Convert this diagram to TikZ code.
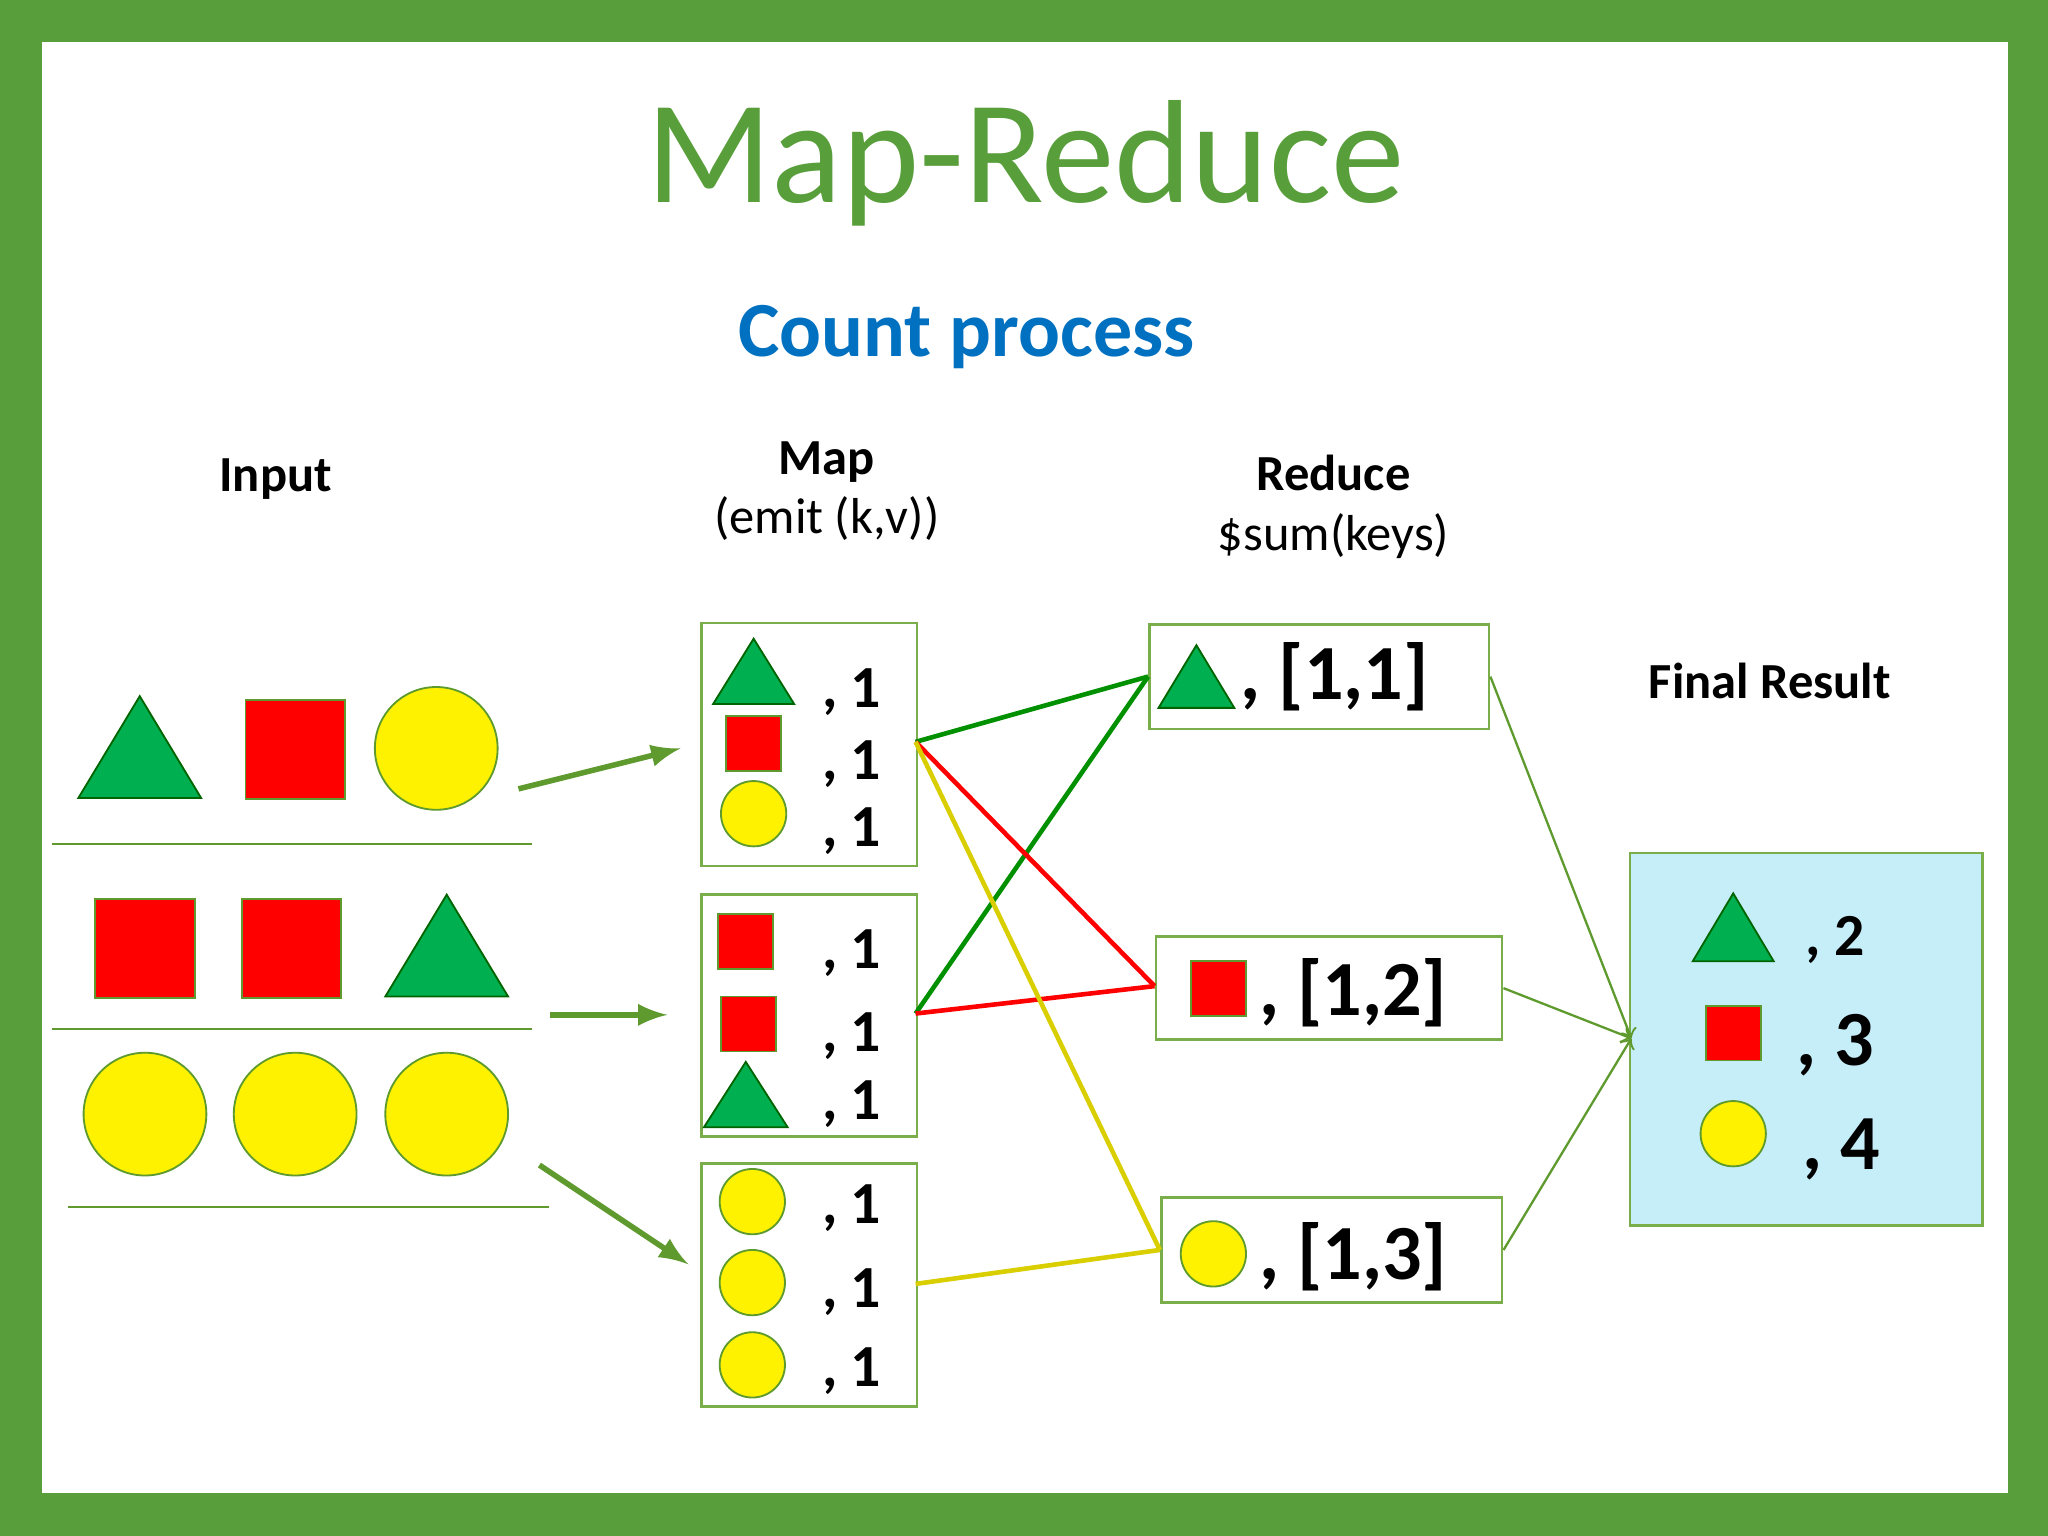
\documentclass[tikz,border=0pt]{standalone}
\usepackage{fontspec}
\setmainfont{Carlito}
\usetikzlibrary{positioning}
\definecolor{frame}{HTML}{589E3A}
\definecolor{arrowgreen}{HTML}{5E9A2E}
\definecolor{boxline}{HTML}{7AAE4A}
\definecolor{tgreen}{HTML}{00B050}
\definecolor{titleblue}{HTML}{0070C0}
\definecolor{lblue}{HTML}{C5EEF9}
\definecolor{ygold}{HTML}{D9CF00}
\definecolor{lgreen}{HTML}{009000}
\newcommand{\tri}[4]{\filldraw[fill=tgreen, draw=lgreen!70!black, line width=0.4pt] (#1-#3/2,#2+#4/2) -- (#1+#3/2,#2+#4/2) -- (#1,#2-#4/2) -- cycle;}
\newcommand{\sqr}[3]{\filldraw[fill=red, draw=arrowgreen, line width=0.4pt] (#1-#3/2,#2-#3/2) rectangle (#1+#3/2,#2+#3/2);}
\newcommand{\crc}[3]{\filldraw[fill=yellow, draw=arrowgreen, line width=0.4pt] (#1,#2) circle (#3);}
\begin{document}
\begin{tikzpicture}[x=0.01cm, y=-0.01cm,
	box/.style={draw=boxline, line width=0.6pt, anchor=north west, inner sep=0pt},
	fat/.style={-latex, arrowgreen, line width=1.2pt},
	thin/.style={->, arrowgreen, line width=0.5pt},
	one/.style={font=\fontsize{13}{15}\bfseries\selectfont},
	pair/.style={font=\fontsize{17}{19}\bfseries\selectfont},
	head/.style={font=\fontsize{11}{13}\selectfont, align=center}]
		\fill[frame] (0,0) rectangle (1568,1176);
		\fill[white] (32,32) rectangle (1537,1143);
		\node[text=frame, font=\fontsize{32}{36}\selectfont] (T) at (785,125) {Map-Reduce};
		\node[text=titleblue, font=\fontsize{17}{20}\bfseries\selectfont] (S) at (740,258) {Count process};
		\node[head, font=\fontsize{11}{13}\bfseries\selectfont] (In) at (211,367) {Input};
		\node[head] (Mp) at (633,376) {\textbf{Map}\\(emit (k,v))};
		\node[head] (Rd) at (1021,388) {\textbf{Reduce}\\\$sum(keys)};
		\node[head, font=\fontsize{11}{13}\bfseries\selectfont] (Fr) at (1355,521) {Final Result};
		% input rows
		\tri{107}{572}{94}{78} \sqr{226}{574}{76} \crc{334}{573}{47}
		\draw[arrowgreen, line width=0.5pt] (40,646) -- (407,646);
		\sqr{111}{726}{76} \sqr{223}{726}{76} \tri{342}{724}{94}{78}
		\draw[arrowgreen, line width=0.5pt] (40,788) -- (407,788);
		\crc{111}{853}{47} \crc{226}{853}{47} \crc{342}{853}{47}
		\draw[arrowgreen, line width=0.5pt] (52,924) -- (420,924);
		% map boxes
		\node[box, minimum width=165*0.01cm, minimum height=186*0.01cm] (M1) at (536,476) {};
		\node[box, minimum width=165*0.01cm, minimum height=185*0.01cm] (M2) at (536,684) {};
		\node[box, minimum width=165*0.01cm, minimum height=186*0.01cm] (M3) at (536,890) {};
		\tri{577}{514}{62}{50} \sqr{577}{569}{42} \crc{577}{623}{25}
		\sqr{571}{721}{42} \sqr{573}{784}{42} \tri{571}{838}{64}{50}
		\crc{576}{920}{25} \crc{576}{982}{25} \crc{576}{1045}{25}
		\foreach \y in {530,585,636,730,793,845,925,989,1050}
			\node[one] at (652,\y) {, 1};
		% reduce boxes
		\node[box, minimum width=260*0.01cm, minimum height=80*0.01cm] (R1) at (879,477) {};
		\node[box, minimum width=265*0.01cm, minimum height=79*0.01cm] (R2) at (884,716) {};
		\node[box, minimum width=261*0.01cm, minimum height=80*0.01cm] (R3) at (888,916) {};
		\tri{916}{518}{58}{48} \sqr{933}{757}{42} \crc{929}{960}{25}
		\node[pair] at (1022,518) {, [1,1]};
		\node[pair] at (1036,760) {, [1,2]};
		\node[pair] at (1036,962) {, [1,3]};
		% final result
		\node[box, fill=lblue, minimum width=270*0.01cm, minimum height=285*0.01cm] (F) at (1247,652) {};
		\tri{1327}{710}{62}{52} \sqr{1327}{791}{42} \crc{1327}{868}{25}
		\node[one] at (1405,720) {, 2};
		\node[pair] at (1405,800) {, 3};
		\node[pair] at (1410,880) {, 4};
		% connectors
		\coordinate (a1) at (397,604); \coordinate (a2) at (421,777); \coordinate (a3) at (413,892);
		\coordinate (m1) at (521,573); \coordinate (m2) at (511,777); \coordinate (m3) at (527,968);
		\draw[fat] (a1) -- (m1);
		\draw[fat] (a2) -- (m2);
		\draw[fat] (a3) -- (m3);
		\coordinate (p1) at (701,568); \coordinate (p2) at (701,776); \coordinate (p3) at (701,983);
		\coordinate (q1) at (879,518); \coordinate (q2) at (884,755); \coordinate (q3) at (888,957);
		\draw[lgreen, line width=1pt] (p1) -- (q1);
		\draw[lgreen, line width=1pt] (p2) -- (q1);
		\draw[red, line width=1pt] (p1) -- (q2);
		\draw[red, line width=1pt] (p2) -- (q2);
		\draw[ygold, line width=1pt] (p1) -- (q3);
		\draw[ygold, line width=1pt] (p3) -- (q3);
		\coordinate (f) at (1249,795);
		\draw[thin] (R1.east) -- (f);
		\draw[thin] (R2.east) -- (f);
		\draw[thin] (R3.east) -- (f);
\end{tikzpicture}
\end{document}
